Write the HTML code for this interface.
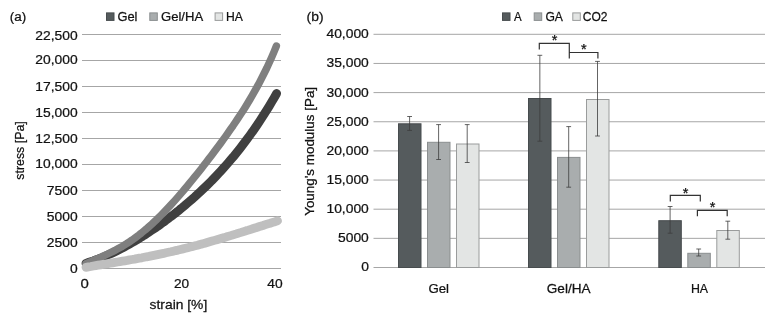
<!DOCTYPE html>
<html><head><meta charset="utf-8"><title>Figure</title>
<style>html,body{margin:0;padding:0;background:#fff}svg{display:block}text{font-family:"Liberation Sans",sans-serif;fill:#111;stroke:#111;stroke-width:0.25px}</style></head><body>
<svg width="776" height="316" viewBox="0 0 776 316">
<rect width="776" height="316" fill="#fff"/>
<line x1="82" x2="281" y1="34.50" y2="34.50" stroke="#a6a6a6" stroke-width="1"/>
<line x1="82" x2="281" y1="60.50" y2="60.50" stroke="#a6a6a6" stroke-width="1"/>
<line x1="82" x2="281" y1="86.50" y2="86.50" stroke="#a6a6a6" stroke-width="1"/>
<line x1="82" x2="281" y1="112.50" y2="112.50" stroke="#a6a6a6" stroke-width="1"/>
<line x1="82" x2="281" y1="138.50" y2="138.50" stroke="#a6a6a6" stroke-width="1"/>
<line x1="82" x2="281" y1="164.50" y2="164.50" stroke="#a6a6a6" stroke-width="1"/>
<line x1="82" x2="281" y1="190.50" y2="190.50" stroke="#a6a6a6" stroke-width="1"/>
<line x1="82" x2="281" y1="216.50" y2="216.50" stroke="#a6a6a6" stroke-width="1"/>
<line x1="82" x2="281" y1="242.50" y2="242.50" stroke="#a6a6a6" stroke-width="1"/>
<line x1="82" x2="281" y1="268.50" y2="268.50" stroke="#a6a6a6" stroke-width="1"/>
<path d="M86.0,263.3 L88.4,262.5 L90.8,261.7 L93.2,260.9 L95.7,260.0 L98.1,259.1 L100.5,258.2 L102.9,257.2 L105.3,256.2 L107.7,255.1 L110.1,254.0 L112.5,252.9 L115.0,251.7 L117.4,250.5 L119.8,249.3 L122.2,248.1 L124.6,246.8 L127.0,245.5 L129.4,244.1 L131.8,242.7 L134.3,241.3 L136.7,239.9 L139.1,238.4 L141.5,237.0 L143.9,235.4 L146.3,233.9 L148.7,232.3 L151.1,230.7 L153.6,229.1 L156.0,227.5 L158.4,225.8 L160.8,224.1 L163.2,222.3 L165.6,220.6 L168.0,218.8 L170.4,216.9 L172.9,215.1 L175.3,213.2 L177.7,211.3 L180.1,209.3 L182.5,207.4 L184.9,205.4 L187.3,203.3 L189.7,201.2 L192.2,199.1 L194.6,197.0 L197.0,194.8 L199.4,192.6 L201.8,190.3 L204.2,188.0 L206.6,185.7 L209.0,183.3 L211.5,180.9 L213.9,178.4 L216.3,175.9 L218.7,173.3 L221.1,170.7 L223.5,168.0 L225.9,165.3 L228.3,162.6 L230.8,159.7 L233.2,156.9 L235.6,153.9 L238.0,150.9 L240.4,147.9 L242.8,144.8 L245.2,141.6 L247.6,138.4 L250.1,135.0 L252.5,131.7 L254.9,128.2 L257.3,124.7 L259.7,121.1 L262.1,117.4 L264.5,113.6 L266.9,109.8 L269.4,105.8 L271.8,101.8 L274.2,97.7 L276.6,93.5" fill="none" stroke="#404040" stroke-width="8.8" stroke-linecap="round" stroke-linejoin="round"/>
<path d="M86.0,263.7 L88.4,262.6 L90.8,261.5 L93.2,260.4 L95.6,259.4 L98.1,258.3 L100.5,257.3 L102.9,256.2 L105.3,255.1 L107.7,254.0 L110.1,252.8 L112.5,251.6 L114.9,250.4 L117.3,249.1 L119.7,247.8 L122.2,246.4 L124.6,244.9 L127.0,243.4 L129.4,241.8 L131.8,240.2 L134.2,238.5 L136.6,236.7 L139.0,234.9 L141.4,233.0 L143.8,231.0 L146.3,229.0 L148.7,226.9 L151.1,224.8 L153.5,222.5 L155.9,220.3 L158.3,217.9 L160.7,215.5 L163.1,213.1 L165.5,210.6 L167.9,208.0 L170.4,205.4 L172.8,202.8 L175.2,200.1 L177.6,197.4 L180.0,194.6 L182.4,191.8 L184.8,189.0 L187.2,186.1 L189.6,183.2 L192.0,180.2 L194.5,177.2 L196.9,174.2 L199.3,171.2 L201.7,168.2 L204.1,165.1 L206.5,162.0 L208.9,158.8 L211.3,155.7 L213.7,152.5 L216.1,149.3 L218.6,146.0 L221.0,142.7 L223.4,139.4 L225.8,136.1 L228.2,132.7 L230.6,129.2 L233.0,125.8 L235.4,122.2 L237.8,118.6 L240.2,115.0 L242.7,111.2 L245.1,107.4 L247.5,103.5 L249.9,99.5 L252.3,95.4 L254.7,91.2 L257.1,86.9 L259.5,82.4 L261.9,77.8 L264.3,73.0 L266.8,68.0 L269.2,62.8 L271.6,57.5 L274.0,51.9 L276.4,46.0" fill="none" stroke="#7f7f7f" stroke-width="7.4" stroke-linecap="round" stroke-linejoin="round"/>
<path d="M86.0,267.3 L88.4,266.9 L90.8,266.5 L93.3,266.0 L95.7,265.6 L98.1,265.2 L100.5,264.8 L103.0,264.4 L105.4,264.0 L107.8,263.6 L110.2,263.2 L112.7,262.8 L115.1,262.4 L117.5,262.0 L119.9,261.6 L122.4,261.2 L124.8,260.8 L127.2,260.4 L129.6,259.9 L132.1,259.5 L134.5,259.1 L136.9,258.6 L139.3,258.2 L141.8,257.8 L144.2,257.3 L146.6,256.8 L149.0,256.4 L151.4,255.9 L153.9,255.4 L156.3,254.9 L158.7,254.4 L161.1,253.9 L163.6,253.4 L166.0,252.8 L168.4,252.3 L170.8,251.8 L173.3,251.2 L175.7,250.6 L178.1,250.1 L180.5,249.5 L183.0,248.9 L185.4,248.3 L187.8,247.7 L190.2,247.1 L192.7,246.4 L195.1,245.8 L197.5,245.2 L199.9,244.5 L202.4,243.9 L204.8,243.2 L207.2,242.5 L209.6,241.8 L212.1,241.1 L214.5,240.4 L216.9,239.7 L219.3,239.0 L221.7,238.3 L224.2,237.6 L226.6,236.8 L229.0,236.1 L231.4,235.4 L233.9,234.6 L236.3,233.9 L238.7,233.1 L241.1,232.4 L243.6,231.6 L246.0,230.8 L248.4,230.1 L250.8,229.3 L253.3,228.5 L255.7,227.8 L258.1,227.0 L260.5,226.2 L263.0,225.5 L265.4,224.7 L267.8,223.9 L270.2,223.2 L272.7,222.4 L275.1,221.7 L277.5,220.9" fill="none" stroke="#bfbfbf" stroke-width="8.8" stroke-linecap="round" stroke-linejoin="round"/>
<rect x="106.5" y="12.9" width="7.5" height="7.5" fill="#555b5d" stroke="#474c4e" stroke-width="1"/>
<rect x="149.8" y="12.9" width="7.5" height="7.5" fill="#a9adae" stroke="#8a8e8f" stroke-width="1"/>
<rect x="215.1" y="12.9" width="7.5" height="7.5" fill="#e3e5e4" stroke="#9a9c9c" stroke-width="1"/>
<line x1="373.5" x2="765" y1="267.50" y2="267.50" stroke="#a6a6a6" stroke-width="1"/>
<line x1="373.5" x2="765" y1="238.35" y2="238.35" stroke="#a6a6a6" stroke-width="1"/>
<line x1="373.5" x2="765" y1="209.20" y2="209.20" stroke="#a6a6a6" stroke-width="1"/>
<line x1="373.5" x2="765" y1="180.05" y2="180.05" stroke="#a6a6a6" stroke-width="1"/>
<line x1="373.5" x2="765" y1="150.90" y2="150.90" stroke="#a6a6a6" stroke-width="1"/>
<line x1="373.5" x2="765" y1="121.75" y2="121.75" stroke="#a6a6a6" stroke-width="1"/>
<line x1="373.5" x2="765" y1="92.60" y2="92.60" stroke="#a6a6a6" stroke-width="1"/>
<line x1="373.5" x2="765" y1="63.45" y2="63.45" stroke="#a6a6a6" stroke-width="1"/>
<line x1="373.5" x2="765" y1="34.30" y2="34.30" stroke="#a6a6a6" stroke-width="1"/>
<rect x="398.50" y="123.80" width="22.5" height="143.70" fill="#555b5d" stroke="#474c4e" stroke-width="1"/>
<rect x="427.50" y="142.30" width="22.5" height="125.20" fill="#a9adae" stroke="#8a8e8f" stroke-width="1"/>
<rect x="456.50" y="144.00" width="22.5" height="123.50" fill="#e3e5e4" stroke="#9a9c9c" stroke-width="1"/>
<rect x="528.50" y="98.50" width="22.5" height="169.00" fill="#555b5d" stroke="#474c4e" stroke-width="1"/>
<rect x="557.50" y="157.40" width="22.5" height="110.10" fill="#a9adae" stroke="#8a8e8f" stroke-width="1"/>
<rect x="586.50" y="99.50" width="22.5" height="168.00" fill="#e3e5e4" stroke="#9a9c9c" stroke-width="1"/>
<rect x="658.80" y="220.70" width="22.5" height="46.80" fill="#555b5d" stroke="#474c4e" stroke-width="1"/>
<rect x="687.80" y="253.30" width="22.5" height="14.20" fill="#a9adae" stroke="#8a8e8f" stroke-width="1"/>
<rect x="716.80" y="230.50" width="22.5" height="37.00" fill="#e3e5e4" stroke="#9a9c9c" stroke-width="1"/>
<path d="M409.60,116.50V130.40M407.20,116.50h4.8M407.20,130.40h4.8" fill="none" stroke="#3c3c3c" stroke-width="0.8"/>
<path d="M438.60,124.60V159.50M436.20,124.60h4.8M436.20,159.50h4.8" fill="none" stroke="#3c3c3c" stroke-width="0.8"/>
<path d="M467.20,124.60V162.50M464.80,124.60h4.8M464.80,162.50h4.8" fill="none" stroke="#3c3c3c" stroke-width="0.8"/>
<path d="M539.85,55.30V141.20M537.45,55.30h4.8M537.45,141.20h4.8" fill="none" stroke="#3c3c3c" stroke-width="0.8"/>
<path d="M568.70,126.60V187.20M566.30,126.60h4.8M566.30,187.20h4.8" fill="none" stroke="#3c3c3c" stroke-width="0.8"/>
<path d="M597.50,61.40V136.00M595.10,61.40h4.8M595.10,136.00h4.8" fill="none" stroke="#3c3c3c" stroke-width="0.8"/>
<path d="M670.10,206.50V233.20M667.70,206.50h4.8M667.70,233.20h4.8" fill="none" stroke="#3c3c3c" stroke-width="0.8"/>
<path d="M698.70,249.00V256.00M696.30,249.00h4.8M696.30,256.00h4.8" fill="none" stroke="#3c3c3c" stroke-width="0.8"/>
<path d="M727.80,221.20V239.20M725.40,221.20h4.8M725.40,239.20h4.8" fill="none" stroke="#3c3c3c" stroke-width="0.8"/>
<path d="M539.3,49.6V43.3H569.3V58.5M569.3,52.5H597.9V58.5" fill="none" stroke="#333" stroke-width="1.2"/>
<path d="M670.3,201.6V195.4H700.3V201.6M697.4,216.3V210.3H727.2V216.3" fill="none" stroke="#333" stroke-width="1.2"/>
<rect x="502.5" y="12.9" width="7.5" height="7.5" fill="#555b5d" stroke="#474c4e" stroke-width="1"/>
<rect x="534.2" y="12.9" width="7.5" height="7.5" fill="#a9adae" stroke="#8a8e8f" stroke-width="1"/>
<rect x="572.8" y="12.9" width="7.5" height="7.5" fill="#e3e5e4" stroke="#9a9c9c" stroke-width="1"/>
<text transform="translate(9.77,20.60) scale(0.9955,1)" font-size="13.5">(a)</text>
<text transform="translate(117.40,20.50) scale(0.9546,1)" font-size="13.5">Gel</text>
<text transform="translate(160.99,20.50) scale(0.9687,1)" font-size="13.5">Gel/HA</text>
<text transform="translate(226.05,20.50) scale(0.9007,1)" font-size="13.5">HA</text>
<text transform="translate(80.53,287.80) scale(1.1111,1)" font-size="13.5">0</text>
<text transform="translate(173.96,287.80) scale(1.0109,1)" font-size="13.5">20</text>
<text transform="translate(267.28,287.80) scale(1.0229,1)" font-size="13.5">40</text>
<text transform="translate(149.58,308.80) scale(1.0261,1)" font-size="13.5">strain [%]</text>
<text transform="translate(23.80,179.69) rotate(-90) scale(0.9178,1)" font-size="13.5">stress [Pa]</text>
<text transform="translate(306.55,20.60) scale(1.0285,1)" font-size="13.5">(b)</text>
<text transform="translate(513.90,20.60) scale(0.8489,1)" font-size="13.5">A</text>
<text transform="translate(545.43,20.60) scale(0.8977,1)" font-size="13.5">GA</text>
<text transform="translate(582.84,20.60) scale(0.8917,1)" font-size="13.5">CO2</text>
<text transform="translate(428.48,292.50) scale(0.9802,1)" font-size="13.5">Gel</text>
<text transform="translate(546.76,292.50) scale(1.0083,1)" font-size="13.5">Gel/HA</text>
<text transform="translate(690.93,292.50) scale(0.9175,1)" font-size="13.5">HA</text>
<text transform="translate(313.50,215.81) rotate(-90) scale(0.9949,1)" font-size="13.5">Young&#39;s modulus [Pa]</text>
<text transform="translate(35.25,39.60) scale(1.0267,1)" font-size="13.5">22,500</text>
<text transform="translate(35.25,64.20) scale(1.0267,1)" font-size="13.5">20,000</text>
<text transform="translate(35.25,91.10) scale(1.0267,1)" font-size="13.5">17,500</text>
<text transform="translate(35.25,117.10) scale(1.0267,1)" font-size="13.5">15,000</text>
<text transform="translate(35.25,143.10) scale(1.0267,1)" font-size="13.5">12,500</text>
<text transform="translate(35.25,168.40) scale(1.0267,1)" font-size="13.5">10,000</text>
<text transform="translate(46.81,195.40) scale(1.0267,1)" font-size="13.5">7500</text>
<text transform="translate(46.81,220.80) scale(1.0267,1)" font-size="13.5">5000</text>
<text transform="translate(46.81,247.40) scale(1.0267,1)" font-size="13.5">2500</text>
<text transform="translate(69.94,273.10) scale(1.0267,1)" font-size="13.5">0</text>
<text transform="translate(361.14,271.40) scale(1.0267,1)" font-size="13.5">0</text>
<text transform="translate(338.01,242.25) scale(1.0267,1)" font-size="13.5">5000</text>
<text transform="translate(326.45,213.10) scale(1.0267,1)" font-size="13.5">10,000</text>
<text transform="translate(326.45,183.95) scale(1.0267,1)" font-size="13.5">15,000</text>
<text transform="translate(326.45,154.80) scale(1.0267,1)" font-size="13.5">20,000</text>
<text transform="translate(326.45,125.65) scale(1.0267,1)" font-size="13.5">25,000</text>
<text transform="translate(326.45,96.50) scale(1.0267,1)" font-size="13.5">30,000</text>
<text transform="translate(326.45,67.35) scale(1.0267,1)" font-size="13.5">35,000</text>
<text transform="translate(326.45,38.20) scale(1.0267,1)" font-size="13.5">40,000</text>
<text x="551.87" y="45.28" font-size="14.5">*</text>
<text x="581.07" y="54.18" font-size="14.5">*</text>
<text x="682.77" y="197.58" font-size="14.5">*</text>
<text x="709.67" y="212.38" font-size="14.5">*</text>
</svg></body></html>
